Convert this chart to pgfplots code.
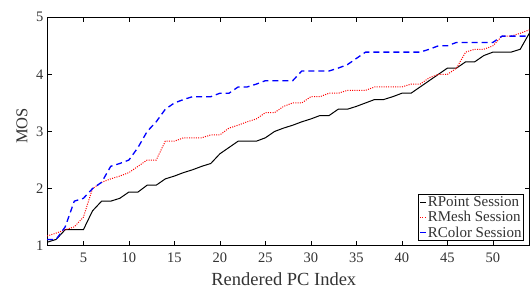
\documentclass[border=0pt]{standalone}
\usepackage{fontspec}
\setmainfont{Liberation Serif}
\usepackage{pgfplots}
\pgfplotsset{compat=1.18}

\begin{document}
\begin{tikzpicture}
\begin{axis}[
  scale only axis,
  width=482.3pt, height=228.4pt,
  xmin=1, xmax=54, ymin=1, ymax=5,
  xtick={5,10,...,50}, ytick={1,2,3,4,5},
  tick align=inside,
  major tick length=4.5pt,
  tick style={black, line width=0.6pt},
  axis line style={line width=0.8pt, black},
  /pgf/number format/assume math mode=true,
  ticklabel style={font=\fontsize{14.5}{16}\selectfont, text=black!80},
  xticklabel style={yshift=-4pt},
  xlabel={Rendered PC Index}, ylabel={MOS},
  xlabel style={font=\fontsize{18.5}{21}\selectfont, text=black!80, at={(axis description cs:0.491,0)}, anchor=base, yshift=-40pt},
  ylabel style={font=\fontsize{16.5}{18}\selectfont, text=black!80, at={(axis description cs:-0.052,0.525)}, anchor=center},
  legend style={at={(rel axis cs:0.989,0.0206)}, anchor=south east,
    draw=black, line width=0.8pt, fill=white,
    font=\fontsize{15}{17}\selectfont, inner sep=1pt, row sep=1.5pt,
    nodes={inner sep=1pt, text=black!80}},
  legend cell align=left,
  legend image code/.code={\draw[#1] (0pt,0pt) -- (6pt,0pt);},
]
\coordinate (bl) at (rel axis cs:0,0);
\coordinate (tr) at (rel axis cs:1,1);
\addplot[black, line width=1pt] coordinates {
(1,1.06) (2,1.11) (3,1.28) (4,1.28) (5,1.28) (6,1.61) (7,1.78) (8,1.78) (9,1.83) (10,1.94)
(11,1.94) (12,2.06) (13,2.06) (14,2.17) (15,2.22) (16,2.28) (17,2.33) (18,2.39) (19,2.44) (20,2.61)
(21,2.72) (22,2.83) (23,2.83) (24,2.83) (25,2.89) (26,3.00) (27,3.06) (28,3.11) (29,3.17) (30,3.22)
(31,3.28) (32,3.28) (33,3.39) (34,3.39) (35,3.44) (36,3.50) (37,3.56) (38,3.56) (39,3.61) (40,3.67)
(41,3.67) (42,3.78) (43,3.89) (44,4.00) (45,4.11) (46,4.11) (47,4.22) (48,4.22) (49,4.33) (50,4.39)
(51,4.39) (52,4.39) (53,4.44) (54,4.72)
};
\addlegendentry{RPoint Session}
\addplot[red, line width=1pt, dash pattern=on 1pt off 1.3pt] coordinates {
(1,1.17) (2,1.22) (3,1.28) (4,1.33) (5,1.50) (6,2.00) (7,2.11) (8,2.17) (9,2.22) (10,2.28)
(11,2.39) (12,2.50) (13,2.50) (14,2.83) (15,2.83) (16,2.89) (17,2.89) (18,2.89) (19,2.94) (20,2.94)
(21,3.06) (22,3.11) (23,3.17) (24,3.22) (25,3.33) (26,3.33) (27,3.44) (28,3.50) (29,3.50) (30,3.61)
(31,3.61) (32,3.67) (33,3.67) (34,3.72) (35,3.72) (36,3.72) (37,3.78) (38,3.78) (39,3.78) (40,3.78)
(41,3.83) (42,3.83) (43,3.94) (44,4.00) (45,4.00) (46,4.11) (47,4.39) (48,4.44) (49,4.44) (50,4.50)
(51,4.67) (52,4.67) (53,4.72) (54,4.78)
};
\addlegendentry{RMesh Session}
\addplot[blue, line width=1.3pt, dash pattern=on 6pt off 4pt] coordinates {
(1,1.11) (2,1.11) (3,1.33) (4,1.78) (5,1.83) (6,2.00) (7,2.11) (8,2.39) (9,2.44) (10,2.50)
(11,2.72) (12,3.00) (13,3.17) (14,3.39) (15,3.50) (16,3.56) (17,3.61) (18,3.61) (19,3.61) (20,3.67)
(21,3.67) (22,3.78) (23,3.78) (24,3.83) (25,3.89) (26,3.89) (27,3.89) (28,3.89) (29,4.06) (30,4.06)
(31,4.06) (32,4.06) (33,4.11) (34,4.17) (35,4.28) (36,4.39) (37,4.39) (38,4.39) (39,4.39) (40,4.39)
(41,4.39) (42,4.39) (43,4.44) (44,4.50) (45,4.50) (46,4.56) (47,4.56) (48,4.56) (49,4.56) (50,4.56)
(51,4.67) (52,4.67) (53,4.67) (54,4.67)
};
\addlegendentry{RColor Session}
\end{axis}
\pgfresetboundingbox
\useasboundingbox ([shift={(-47pt,-45.3pt)}]bl) rectangle ([shift={(0.7pt,17.3pt)}]tr);
\end{tikzpicture}
\end{document}
